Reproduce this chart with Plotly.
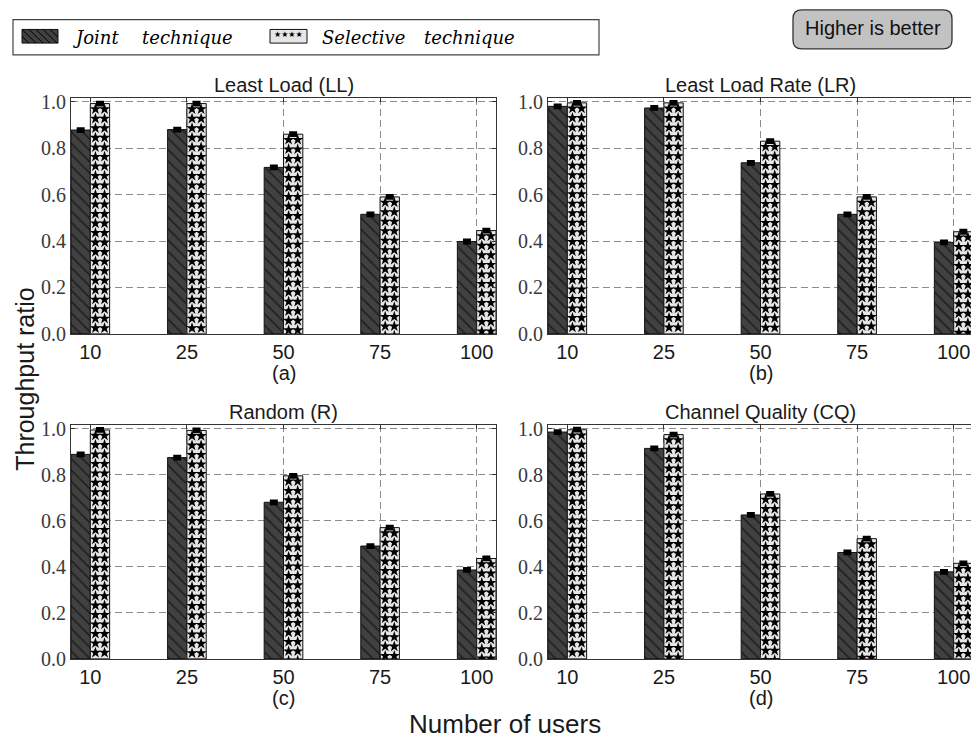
import plotly.graph_objects as go

# ---- data -------------------------------------------------------------
users = ["10", "25", "50", "75", "100"]
panel_titles = ["Least Load (LL)", "Least Load Rate (LR)", "Random (R)", "Channel Quality (CQ)"]
panel_tags = ["(a)", "(b)", "(c)", "(d)"]

joint_ll = [0.878, 0.880, 0.717, 0.515, 0.398]
selective_ll = [0.992, 0.992, 0.860, 0.590, 0.445]

joint_lr = [0.980, 0.973, 0.737, 0.515, 0.394]
selective_lr = [0.995, 0.995, 0.830, 0.590, 0.440]

joint_r = [0.888, 0.874, 0.680, 0.490, 0.386]
selective_r = [0.994, 0.992, 0.795, 0.570, 0.436]

joint_cq = [0.985, 0.914, 0.625, 0.462, 0.378]
selective_cq = [0.995, 0.974, 0.716, 0.522, 0.415]

joint_sets = [joint_ll, joint_lr, joint_r, joint_cq]
selective_sets = [selective_ll, selective_lr, selective_r, selective_cq]
err = 0.006

# ---- geometry helpers (pixel -> paper) --------------------------------
W, H = 971, 746


def px(x):
    return x / W


def py(y):
    return 1 - y / H


# panel boxes in pixels: (left, right, top, bottom)
boxes = [(71, 496, 93, 335), (548, 971, 93, 335),
         (71, 496, 428, 668), (548, 971, 428, 668)]
unit_px = (496 - 71) / 4.4

BAR_W = 0.2
JOINT_FILL = "#414141"
SEL_FILL = "#e6e6e6"
TXT = "#1a1a1a"
SANS = "Liberation Sans, Arial, sans-serif"
SERIF = "Liberation Serif, Times New Roman, serif"
LEG_SERIF = "DejaVu Serif, serif"

fig = go.Figure()

for p in range(4):
    xa = "x" if p == 0 else f"x{p + 1}"
    ya = "y" if p == 0 else f"y{p + 1}"
    idx = list(range(len(users)))
    jx = [i + BAR_W / 2 for i in idx]
    sx = [i + 1.5 * BAR_W for i in idx]

    fig.add_trace(go.Bar(
        x=jx, y=joint_sets[p], width=BAR_W, xaxis=xa, yaxis=ya,
        name="Joint technique", showlegend=False,
        marker=dict(color=JOINT_FILL, line=dict(color="#111", width=1),
                    pattern=dict(shape="\\", fgcolor="#000", bgcolor=JOINT_FILL,
                                 size=8, solidity=0.22)),
        error_y=dict(type="constant", value=err, color="#000", thickness=3, width=4),
        hoverinfo="skip",
    ))
    fig.add_trace(go.Bar(
        x=sx, y=selective_sets[p], width=BAR_W, xaxis=xa, yaxis=ya,
        name="Selective technique", showlegend=False,
        marker=dict(color=SEL_FILL, line=dict(color="#111", width=1)),
        error_y=dict(type="constant", value=err, color="#000", thickness=3, width=4),
        hoverinfo="skip",
    ))

    # star hatch filling each selective bar, laid out from the bar top down
    # (the lowest row is allowed to dip under the axis, where it gets clipped)
    star_x, star_y = [], []
    for i, v in enumerate(selective_sets[p]):
        yy = v - 0.024
        while yy > -0.012:
            for dx in (-0.047, 0.047):
                star_x.append(sx[i] + dx)
                star_y.append(yy)
            yy -= 0.041
    fig.add_trace(go.Scatter(
        x=star_x, y=star_y, mode="markers", xaxis=xa, yaxis=ya,
        marker=dict(symbol="star", size=8.5, color="#000", line=dict(width=0)),
        showlegend=False, hoverinfo="skip", cliponaxis=True,
    ))

layout = dict(
    width=W, height=H,
    margin=dict(l=0, r=0, t=0, b=0),
    paper_bgcolor="white", plot_bgcolor="white",
    barmode="overlay", showlegend=False,
    font=dict(family=SANS, color=TXT),
)

annotations = []
shapes = []

for p, (l, r, t, b) in enumerate(boxes):
    suffix = "" if p == 0 else str(p + 1)
    right_cut = p in (1, 3)
    xmax = (r - l) / unit_px
    layout["xaxis" + suffix] = dict(
        domain=[px(l), px(r)], anchor="y" + suffix, range=[0, xmax],
        tickvals=[i + BAR_W for i in range(len(users))], ticktext=users,
        ticks="inside", ticklen=4, tickcolor="#333",
        showline=True, linecolor="#333", linewidth=1.2, mirror="ticks",
        showgrid=True, gridcolor="#8c8c8c", gridwidth=1, griddash="7px,4px",
        zeroline=False, tickfont=dict(family=SANS, size=20, color=TXT),
        fixedrange=True,
    )
    layout["yaxis" + suffix] = dict(
        domain=[py(b), py(t)], anchor="x" + suffix, range=[0, 1.017],
        tickvals=[0, 0.2, 0.4, 0.6, 0.8, 1.0], tickformat=".1f",
        ticks="inside", ticklen=4, tickcolor="#333",
        showline=True, linecolor="#333", linewidth=1.2,
        mirror=False if right_cut else "ticks",
        showgrid=True, gridcolor="#8c8c8c", gridwidth=1, griddash="7px,4px",
        zeroline=False, tickfont=dict(family=SERIF, size=20, color="#3a3a3a"),
        fixedrange=True,
    )
    cx = px(l + 2.2 * unit_px)
    annotations.append(dict(text=panel_titles[p], x=cx, y=py(t - 13), xref="paper", yref="paper",
                            showarrow=False, font=dict(family=SANS, size=20, color=TXT),
                            xanchor="center", yanchor="middle"))
    annotations.append(dict(text=panel_tags[p], x=cx, y=py(b + 40), xref="paper", yref="paper",
                            showarrow=False, font=dict(family=SANS, size=20, color=TXT),
                            xanchor="center", yanchor="middle"))

# shared axis titles
annotations.append(dict(text="Number of users", x=px(505), y=py(735), xref="paper", yref="paper",
                        showarrow=False, font=dict(family=SANS, size=26, color=TXT),
                        xanchor="center", yanchor="middle"))
annotations.append(dict(text="Throughput ratio", x=px(25), y=py(382), xref="paper", yref="paper",
                        showarrow=False, textangle=-90, font=dict(family=SANS, size=25, color=TXT),
                        xanchor="center", yanchor="middle"))

# ---- legend box --------------------------------------------------------
shapes.append(dict(type="rect", xref="paper", yref="paper",
                   x0=px(13), x1=px(599), y0=py(49), y1=py(13),
                   line=dict(color="#444", width=1.2), fillcolor="white"))
# joint swatch with diagonal hatch
jl, jr, jt, jb = 22, 58, 23, 37
shapes.append(dict(type="rect", xref="paper", yref="paper",
                   x0=px(jl), x1=px(jr), y0=py(jb), y1=py(jt),
                   line=dict(color="#111", width=1), fillcolor=JOINT_FILL))
h = jb - jt
a = jl - h
while a < jr:
    t0 = max(0, jl - a)
    t1 = min(h, jr - a)
    if t1 > t0:
        shapes.append(dict(type="line", xref="paper", yref="paper",
                           x0=px(a + t0), y0=py(jt + t0), x1=px(a + t1), y1=py(jt + t1),
                           line=dict(color="#000", width=1)))
    a += 7
# selective swatch with stars
sl, sr = 270, 307
shapes.append(dict(type="rect", xref="paper", yref="paper",
                   x0=px(sl), x1=px(sr), y0=py(jb), y1=py(jt),
                   line=dict(color="#111", width=1), fillcolor=SEL_FILL))
annotations.append(dict(text="★★★★", x=px((sl + sr) / 2), y=py(28), xref="paper", yref="paper",
                        showarrow=False, font=dict(family="DejaVu Sans", size=8, color="#000"),
                        xanchor="center", yanchor="middle"))
# legend labels, one word at a time for the wide math-style spacing
for word, left in [("Joint", 70), ("technique", 140), ("Selective", 320), ("technique", 422)]:
    annotations.append(dict(text=f"<i>{word}</i>", x=px(left), y=py(31),
                            xref="paper", yref="paper", showarrow=False,
                            font=dict(family=LEG_SERIF, size=18, color="#000"),
                            xanchor="left", yanchor="middle"))

# ---- "Higher is better" rounded badge ---------------------------------
bx0, bx1, by0, by1, rad = 793, 952, 3, 43, 9


def P(x, y):
    return f"{px(x):.5f},{py(y):.5f}"


badge = (f"M {P(bx0 + rad, by0)} L {P(bx1 - rad, by0)} Q {P(bx1, by0)} {P(bx1, by0 + rad)} "
         f"L {P(bx1, by1 - rad)} Q {P(bx1, by1)} {P(bx1 - rad, by1)} "
         f"L {P(bx0 + rad, by1)} Q {P(bx0, by1)} {P(bx0, by1 - rad)} "
         f"L {P(bx0, by0 + rad)} Q {P(bx0, by0)} {P(bx0 + rad, by0)} Z")
shapes.append(dict(type="path", xref="paper", yref="paper", path=badge,
                   fillcolor="#c2c2c2", line=dict(color="#333", width=1.3)))
annotations.append(dict(text="Higher is better", x=px((bx0 + bx1) / 2), y=py(22),
                        xref="paper", yref="paper", showarrow=False,
                        font=dict(family=SANS, size=20, color="#111"),
                        xanchor="center", yanchor="middle"))

layout["annotations"] = annotations
layout["shapes"] = shapes
fig.update_layout(**layout)

fig.write_html("out.html")
